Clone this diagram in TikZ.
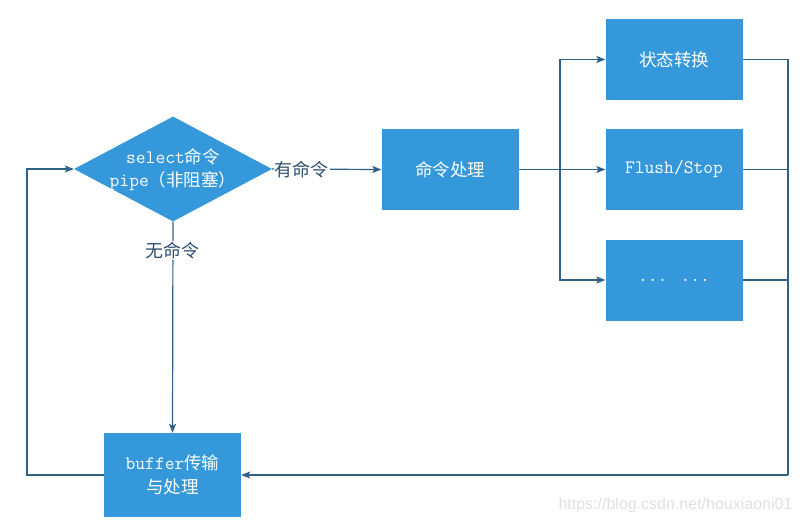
\documentclass[tikz,border=0pt]{standalone}
\usepackage{fontspec}
\setmainfont{Noto Sans CJK SC}
\newfontfamily\wmfont{Liberation Sans}
\usetikzlibrary{arrows.meta,shapes.geometric}
\definecolor{boxblue}{RGB}{52,152,219}
\definecolor{lineblue}{RGB}{46,96,138}
\definecolor{labelcol}{RGB}{47,79,111}
\begin{document}
\begin{tikzpicture}[x=1pt,y=-1pt,
  boxnode/.style={draw=none,fill=boxblue,minimum width=137pt,minimum height=81pt,inner sep=0pt,text=white,font=\fontsize{17.5}{24}\selectfont,align=center},
  conn/.style={draw=lineblue,line width=1.2pt},
  arr/.style={conn,-{Stealth[length=9pt,width=7pt,inset=2pt]}},
  lbl/.style={fill=white,text=labelcol,inner sep=1pt,font=\fontsize{18}{20}\selectfont}]
\useasboundingbox (0,0) rectangle (803,527);
\node[diamond,fill=boxblue,minimum width=198pt,minimum height=105pt,inner sep=0pt] (dia) at (173,169) {};
\node[text=white,align=center,font=\fontsize{17.5}{23}\selectfont] (diatext) at (173,169.5) {{\ttfamily\fontsize{19}{23}\selectfont select}命令\\{\ttfamily\fontsize{19}{23}\selectfont pipe}（非阻塞）};
\node[boxnode] (cmd) at (450,169.5) {命令处理};
\node[boxnode] (s1) at (674,59.5) {状态转换};
\node[boxnode] (s2) at (674,169.5) {{\ttfamily\fontsize{19}{23}\selectfont Flush/Stop}};
\node[boxnode] (s3) at (674,280) {{\ttfamily\fontsize{19}{23}\selectfont ... ...}};
\node[boxnode,minimum height=84pt] (buf) at (172.5,475) {{\ttfamily\fontsize{19}{23}\selectfont buffer}传输\\与处理};
\coordinate (br) at (560,169.5);
\coordinate (rc) at (788,475);
\coordinate (lc) at (27,475);
\draw[arr] (dia.east) -- node[lbl,pos=0.27] (yes) {有命令} (cmd.west);
\draw[arr] (dia.south) -- node[lbl,pos=0.135] (no) {无命令} (buf.north);
\draw[arr] (cmd.east) -- (s2.west);
\draw[arr] (br) |- (s1.west);
\draw[arr] (br) |- (s3.west);
\draw[conn] (s1.east) -| (rc);
\draw[conn] (s2.east) -- (s2.east -| rc);
\draw[conn] (s3.east) -- (s3.east -| rc);
\draw[arr] (rc) -- (buf.east);
\draw[arr] (buf.west) -- (lc) |- (dia.west);
\node[text=black!12,font=\wmfont\fontsize{16}{18}\selectfont,anchor=east] (wm) at (796,505) {https://blog.csdn.net/houxiaoni01};
\end{tikzpicture}
\end{document}
